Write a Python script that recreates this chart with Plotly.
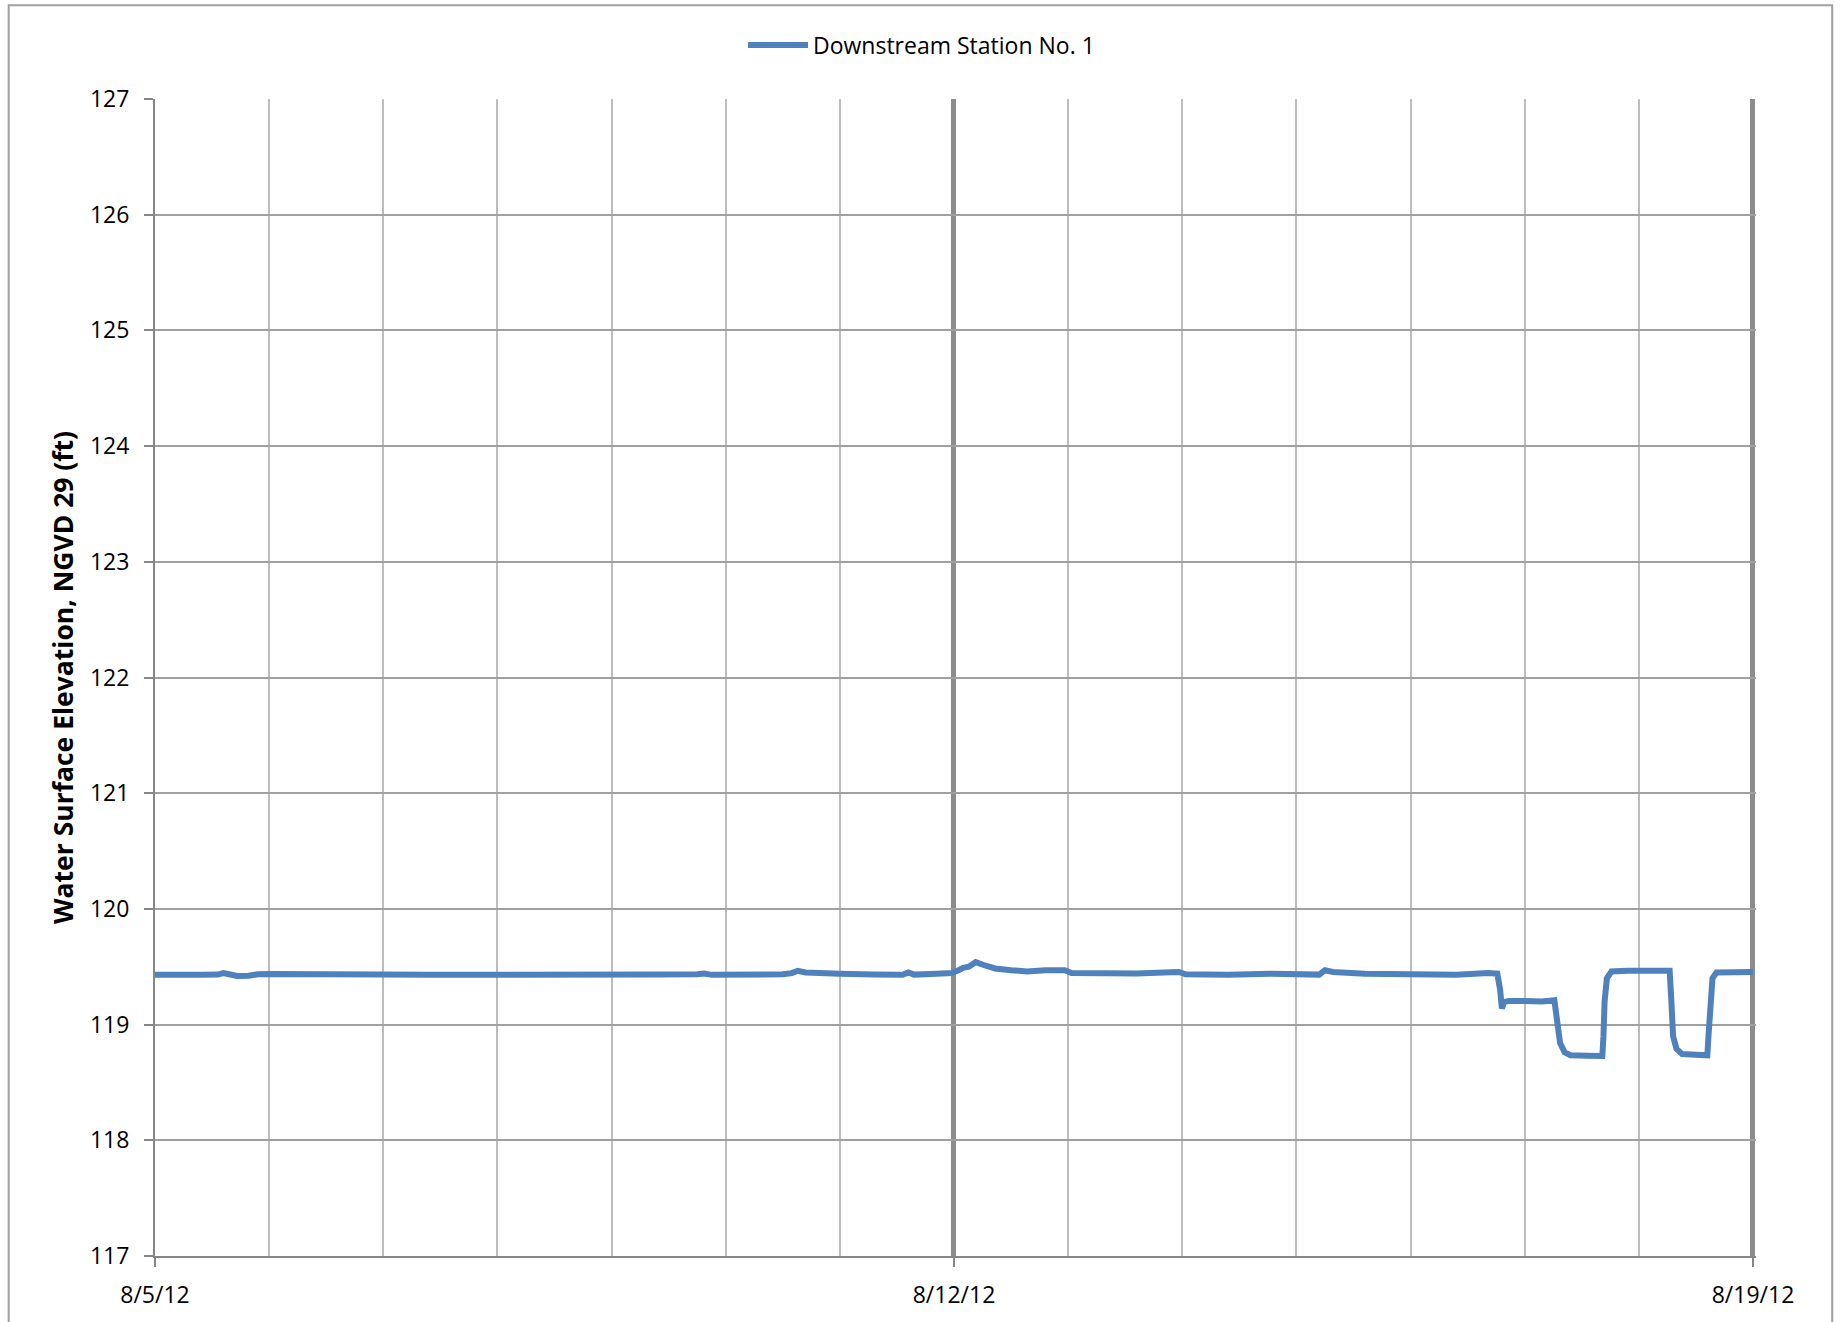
import pandas as pd
import plotly.graph_objects as go

# elevation readings (days after 8/5/12 00:00, ft NGVD 29)
days = [0.00, 0.20, 0.40, 0.55, 0.60, 0.65, 0.72, 0.82, 0.90, 1.00,
        1.30, 1.60, 2.00, 2.40, 2.80, 3.20, 3.60, 4.00, 4.40, 4.75,
        4.81, 4.88, 5.20, 5.50, 5.58, 5.63, 5.70, 5.80, 6.00, 6.30,
        6.55, 6.60, 6.65, 6.85, 6.98, 7.04, 7.08, 7.13, 7.19, 7.26,
        7.36, 7.50, 7.64, 7.80, 7.97, 8.03, 8.30, 8.60, 8.90, 8.97,
        9.03, 9.40, 9.78, 10.10, 10.20, 10.25, 10.32, 10.60, 11.00, 11.40,
        11.68, 11.76, 11.785, 11.80, 11.82, 11.86, 12.00, 12.15, 12.26, 12.285,
        12.31, 12.35, 12.40, 12.55, 12.68, 12.69, 12.70, 12.72, 12.76, 12.90,
        13.10, 13.27, 13.285, 13.30, 13.33, 13.38, 13.50, 13.60, 13.61, 13.625,
        13.645, 13.68, 13.85, 14.00]
elev = [119.430, 119.425, 119.430, 119.432, 119.445, 119.435, 119.420, 119.422, 119.435, 119.437,
        119.432, 119.428, 119.432, 119.430, 119.428, 119.430, 119.428, 119.430, 119.432, 119.435,
        119.442, 119.430, 119.430, 119.435, 119.445, 119.465, 119.450, 119.443, 119.440, 119.432,
        119.430, 119.450, 119.432, 119.440, 119.445, 119.470, 119.490, 119.500, 119.540, 119.515,
        119.485, 119.470, 119.460, 119.470, 119.470, 119.445, 119.440, 119.442, 119.452, 119.455,
        119.435, 119.430, 119.440, 119.430, 119.432, 119.470, 119.455, 119.440, 119.432, 119.430,
        119.445, 119.440, 119.300, 119.140, 119.195, 119.205, 119.205, 119.200, 119.210, 119.050,
        118.840, 118.760, 118.735, 118.730, 118.728, 118.900, 119.200, 119.400, 119.460, 119.465,
        119.470, 119.465, 119.200, 118.900, 118.790, 118.745, 118.740, 118.735, 118.900, 119.200,
        119.400, 119.450, 119.455, 119.455]

start = pd.Timestamp("2012-08-05")
end = pd.Timestamp("2012-08-19")
times = start + pd.to_timedelta(days, unit="D")

font = "Open Sans"

fig = go.Figure()
fig.add_trace(go.Scatter(
    x=times,
    y=elev,
    mode="lines",
    name="Downstream Station No. 1",
    line=dict(color="#4F81BD", width=6),
))

# outer chart border (no bottom edge visible in the picture)
fig.add_shape(type="path", xref="paper", yref="paper",
              path="M -0.0914,-0.08 L -0.0914,1.081 L 1.0476,1.081 L 1.0476,-0.08",
              line=dict(color="#a0a0a0", width=2))

# range runs a few minutes past 8/19 so its thick gridline still gets drawn
fig.update_layout(
    width=1843, height=1322,
    margin=dict(l=155, r=87, t=99, b=63),
    paper_bgcolor="white",
    plot_bgcolor="white",
    font=dict(family=font, size=23, color="black"),
    showlegend=True,
    legend=dict(orientation="h", xref="container", yref="container",
                x=0.5, xanchor="center", y=1 - 45 / 1322, yanchor="middle",
                font=dict(size=23), itemwidth=60),
    xaxis=dict(
        range=[start, end + pd.Timedelta(minutes=38)],
        type="date",
        dtick=7 * 86400000,
        tick0=start,
        tickformat="%-m/%-d/%y",
        ticks="outside", ticklen=9, tickwidth=2, tickcolor="#868686",
        ticklabelstandoff=8,
        showline=True, linecolor="#868686", linewidth=2,
        showgrid=True, gridcolor="#8c8c8c", gridwidth=5,
        minor=dict(dtick=86400000, tick0=start, showgrid=True,
                   gridcolor="#bdbdbd", gridwidth=2, ticks=""),
        zeroline=False,
    ),
    yaxis=dict(
        range=[117, 127],
        dtick=1,
        ticks="outside", ticklen=9, tickwidth=2, tickcolor="#868686",
        ticklabelstandoff=10,
        showline=True, linecolor="#868686", linewidth=2,
        showgrid=True, gridcolor="#a0a0a0", gridwidth=2,
        zeroline=False,
        title=dict(text="<b>Water Surface Elevation, NGVD 29 (ft)</b>",
                   font=dict(size=26.5), standoff=9),
        automargin=False,
    ),
)

# page has a default 8px body margin; drop it so the chart sits at 0,0
fig.write_html("out.html", config={"displayModeBar": False},
               post_script="document.body.style.margin='0';")
